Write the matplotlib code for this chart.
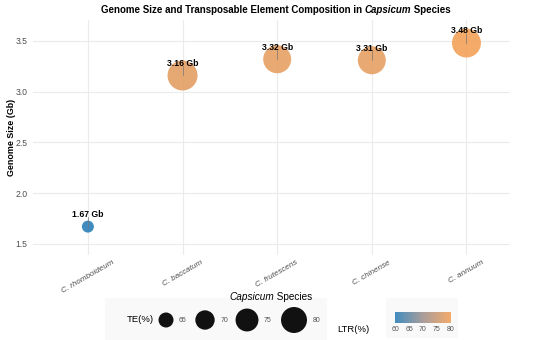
import numpy as np
import matplotlib
matplotlib.use("Agg")
import matplotlib.pyplot as plt
from matplotlib.colors import LinearSegmentedColormap, Normalize
from matplotlib.patches import Rectangle

plt.rcParams['font.family'] = ['Liberation Sans', 'DejaVu Sans']

# data
species = ["C. rhomboideum", "C. baccatum", "C. frutescens", "C. chinense", "C. annuum"]
genome_gb = [1.67, 3.16, 3.32, 3.31, 3.48]
te_pct = [62.3, 87.5, 83.6, 83.6, 85.5]
ltr_pct = [60.0, 78.0, 78.5, 78.5, 80.0]
te_breaks = [65, 70, 75, 80]
ltr_breaks = [60, 65, 70, 75, 80]

W, H = 550, 340
cmap = LinearSegmentedColormap.from_list("ltr", ["#1F78B4", "#9A8C8A", "#F39C50"])
norm = Normalize(60, 80)
ALPHA = 0.85


def marker_area(te):
    # diameter in px grows with sqrt of the value, converted to points^2
    d_px = np.sqrt(np.maximum(225 + (np.asarray(te) - 65) * 30, 1))
    return (d_px * 72 / 100) ** 2


def px(x, y):
    return x / W, 1 - y / H


def mixed_text(fig, x, y, parts, size, color="black"):
    renderer = fig.canvas.get_renderer()
    items = []
    for s, style, weight in parts:
        t = fig.text(0, 0, s, fontsize=size, style=style, fontweight=weight,
                     color=color, ha='left', va='center')
        items.append((t, t.get_window_extent(renderer).width))
    start = x - sum(w for _, w in items) / 2
    for t, w in items:
        t.set_position(px(start, y))
        start += w


fig = plt.figure(figsize=(5.5, 3.4), dpi=100)
ax = fig.add_axes([33 / W, 1 - 255 / H, (510 - 33) / W, (255 - 20) / H])
ax.set_facecolor('white')
for s in ax.spines.values():
    s.set_visible(False)

xs = np.arange(len(species))
ax.scatter(xs, genome_gb, s=marker_area(te_pct), c=ltr_pct, cmap=cmap, norm=norm,
           alpha=ALPHA, edgecolors='none', zorder=3)
for x, g in zip(xs, genome_gb):
    ax.plot([x, x], [g, g + 0.09], color='#777777', lw=0.5, zorder=4)
    ax.text(x, g + 0.12, f"{g:.2f} Gb", ha='center', va='center', fontsize=6.2,
            fontweight='bold', color='black', zorder=5)

ax.set_xlim(-0.58, 4.46)
ax.set_ylim(1.39, 3.707)
ax.set_yticks([1.5, 2.0, 2.5, 3.0, 3.5])
ax.set_xticks(xs)
ax.set_xticklabels(species, rotation=30, ha='center', va='top', style='italic',
                   fontsize=5.8, color='#4D4D4D')
ax.tick_params(axis='y', labelsize=6.2, labelcolor='#4D4D4D', length=0, pad=4)
ax.tick_params(axis='x', length=0, pad=3)
ax.grid(True, color='#EBEBEB', lw=0.8, zorder=0)
ax.set_axisbelow(True)
ax.set_ylabel("Genome Size (Gb)", fontsize=6.4, fontweight='bold')
ax.yaxis.set_label_coords(-17 / 477, 0.5)

mixed_text(fig, 276, 10,
           [("Genome Size and Transposable Element Composition in ", 'normal', 'bold'),
            ("Capsicum", 'italic', 'bold'), (" Species", 'normal', 'bold')], 7.0)
mixed_text(fig, 271, 297, [("Capsicum", 'italic', 'normal'), (" Species", 'normal', 'normal')], 7.2)

# size legend
fig.patches.append(Rectangle(px(105, 340), 222 / W, 42 / H, transform=fig.transFigure,
                             facecolor='#F9F9F9', edgecolor='none', zorder=-1))
lax = fig.add_axes([0, 0, 1, 1], facecolor='none')
lax.set_xlim(0, W)
lax.set_ylim(H, 0)
lax.axis('off')
lax.text(140, 320, "TE(%)", fontsize=6.8, ha='center', va='center')
key_x = [166, 205, 247, 294]
for kx, b in zip(key_x, te_breaks):
    lax.scatter([kx], [320], s=marker_area(b), color='#111111', edgecolors='none')
    lax.text(kx + 13 + (np.sqrt(marker_area(b)) * 100 / 72 - 15) / 2, 320, str(b),
             fontsize=5, color='#555555', ha='left', va='center')

# colour legend
fig.patches.append(Rectangle(px(386, 338), 72 / W, 40 / H, transform=fig.transFigure,
                             facecolor='#F9F9F9', edgecolor='none', zorder=-1))
lax.text(353, 330, "LTR(%)", fontsize=6.8, ha='center', va='center')
cax = fig.add_axes([395 / W, 1 - 323 / H, 56 / W, 11 / H])
grad = np.linspace(60, 80, 256)[None, :]
cax.imshow(grad, cmap=cmap, norm=norm, aspect='auto', alpha=ALPHA,
           extent=[60, 80, 0, 1])
cax.set_yticks([])
cax.set_xticks(ltr_breaks)
cax.set_xticklabels([str(b) for b in ltr_breaks], fontsize=5, color='#555555')
cax.tick_params(axis='x', length=0, pad=2)
for s in cax.spines.values():
    s.set_visible(False)

fig.savefig("out.png", dpi=100)
